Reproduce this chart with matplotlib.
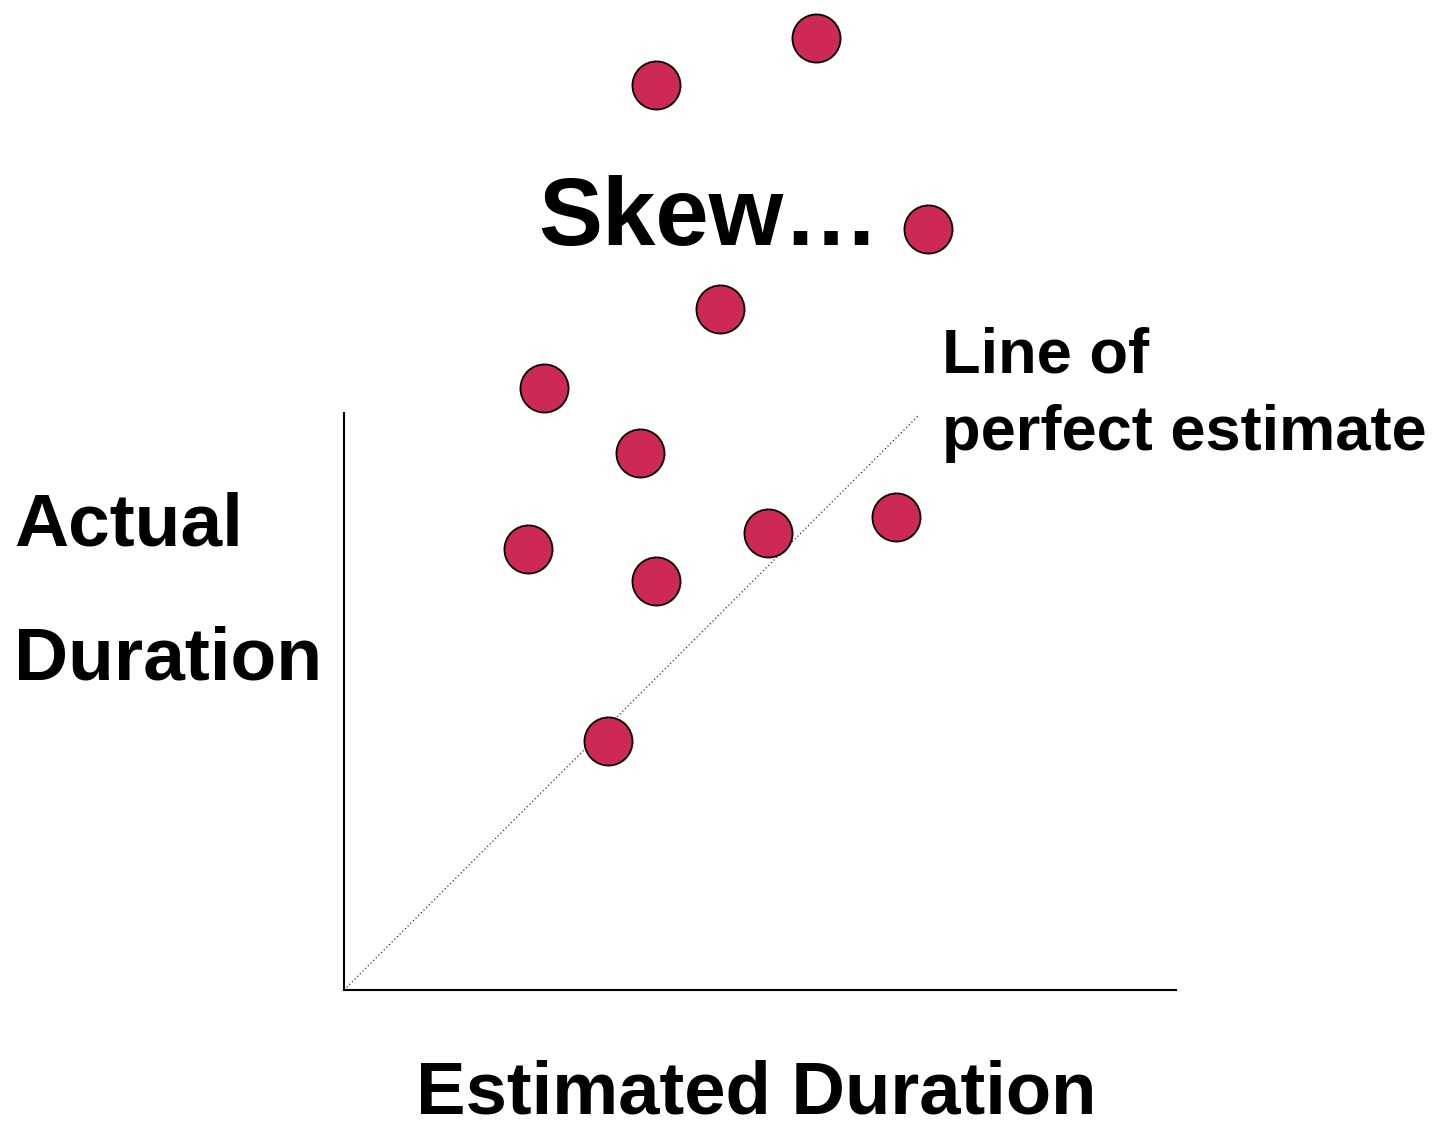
import matplotlib
matplotlib.use('Agg')
import matplotlib.pyplot as plt
import numpy as np

plt.rcParams['font.family'] = ['Liberation Sans', 'DejaVu Sans']

# estimated vs actual durations (arbitrary units)
estimated = [5.67, 3.75, 7.02, 4.52, 2.40, 3.56, 2.21, 3.75, 5.10, 6.63, 3.17]
actual = [11.44, 10.88, 9.15, 8.19, 7.23, 6.45, 5.30, 4.91, 5.49, 5.69, 2.99]
perfect = [0, 6.9]

W, H = 1437, 1127
fig = plt.figure(figsize=(W / 100, H / 100), dpi=100)
ax = fig.add_axes([344 / W, (H - 990) / H, 832 / W, 577 / H])
ax.set_xlim(0, 10)
ax.set_ylim(0, 577 / 83.2)

ax.plot(perfect, perfect, linestyle=(0, (1, 2)), color='#333333', lw=0.9)
ax.scatter(estimated, actual, s=1200, color='#CC2A52', edgecolor='black',
           linewidth=1.3, zorder=3, clip_on=False)

for s in ['top', 'right']:
    ax.spines[s].set_visible(False)
for s in ['left', 'bottom']:
    ax.spines[s].set_linewidth(1.5)
ax.set_xticks([])
ax.set_yticks([])


def ftext(x, y, s, size, **kw):
    fig.text(x / W, 1 - y / H, s, fontsize=size, fontweight='bold',
             ha='left', va='baseline', **kw)


ftext(538, 245, 'Skew\u2026', 69)
ftext(14, 545, 'Actual', 54)
ftext(14, 680, 'Duration', 54)
ftext(416, 1114, 'Estimated Duration', 53.5)
ftext(942, 373, 'Line of', 45.5)
ftext(942, 450, 'perfect estimate', 45.5)

fig.savefig('out.png', dpi=100)
